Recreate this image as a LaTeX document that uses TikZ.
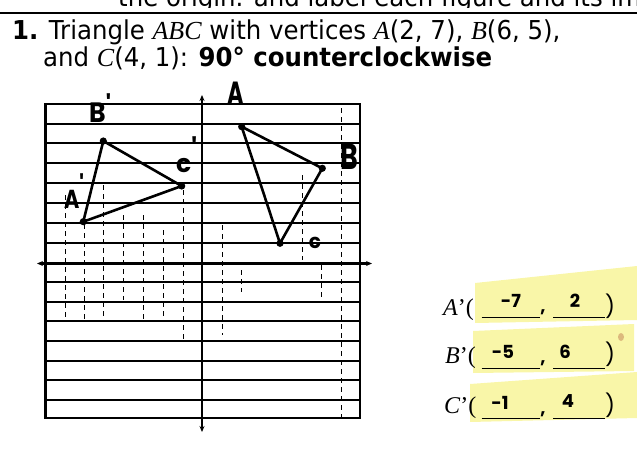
\documentclass[tikz,border=0pt]{standalone}
\usepackage{fontspec}
\setmainfont[FakeStretch=0.94]{DejaVu Sans}
\newfontfamily\tnr{Liberation Serif}
\newfontfamily\hand{Poppins}
\usetikzlibrary{arrows.meta}
\definecolor{hl}{RGB}{249,246,168}
\definecolor{stain}{RGB}{220,185,125}
\tikzset{
  hline/.style={line width=1.7pt},
  frame/.style={line width=2.3pt},
  axis/.style={line width=2.5pt},
  vdash/.style={line width=0.9pt, dash pattern=on 5pt off 4pt},
  tri/.style={line width=2.6pt, line join=round},
  uline/.style={line width=1.6pt},
  lbl/.style={font=\hand\bfseries\fontsize{30}{32}\selectfont, inner sep=0pt},
  num/.style={font=\hand\bfseries\fontsize{18}{20}\selectfont, inner sep=0pt},
  ans/.style={font=\tnr\fontsize{24}{26}\selectfont, inner sep=0pt, anchor=base west},
  main/.style={font=\fontsize{26}{30}\selectfont, inner sep=0pt, anchor=base west}
}
\newcommand{\hp}[1]{\raisebox{#1}{\fontsize{26}{26}\selectfont\bfseries '}}
\begin{document}
\begin{tikzpicture}[x=1pt,y=-1pt]
\useasboundingbox (0,0) rectangle (637,452);
% cut-off line of text at the very top
\begin{scope}
\clip (0,0) rectangle (637,8);
\node[main] (toptext) at (118,6.5) {the origin. and label each figure and its image.};
\end{scope}
\draw[line width=1.8pt] (0,13) -- (637,13);
% heading
\node[main] (l1) at (12,39.5) {\textbf{1.} Triangle {\tnr\itshape ABC} with vertices {\tnr\itshape A}(2, 7), {\tnr\itshape B}(6, 5),};
\node[main] (l2) at (43,66.7) {and {\tnr\itshape C}(4, 1): \textbf{90° counterclockwise}};
% highlights
\fill[hl] (475,283) -- (637,266) -- (637,320) -- (475,323) -- cycle;
\fill[hl] (473,331) -- (634,324) -- (634,371) -- (473,373) -- cycle;
\fill[hl] (470,384) -- (637,372) -- (637,418) -- (470,422) -- cycle;
\fill[stain] (621,337) ellipse (3 and 4);
% grid
\foreach \y in {124,143.3,162.7,182.7,202.7,222.7,242.7,282.3,301.7,321,340.7,360.7,380,400}
  \draw[hline] (45.5,\y) -- (360,\y);
\draw[vdash] (65,195) -- (65,320);
\draw[vdash] (84,215) -- (84,320);
\draw[vdash] (103,185) -- (103,320);
\draw[vdash] (123,215) -- (123,300);
\draw[vdash] (143,215) -- (143,320);
\draw[vdash] (163,230) -- (163,320);
\draw[vdash] (183,190) -- (183,340);
\draw[vdash] (222,225) -- (222,335);
\draw[vdash] (241,270) -- (241,292);
\draw[vdash] (302,175) -- (302,260);
\draw[vdash] (321,265) -- (321,300);
\draw[vdash] (341,108) -- (341,418);
\draw[frame] (45.5,104) rectangle (360,418.3);
\draw[axis, {Stealth[length=6pt,width=5pt]}-{Stealth[length=6pt,width=5pt]}] (37,263.5) -- (372,263.5);
\draw[axis, {Stealth[length=6pt,width=5pt]}-{Stealth[length=6pt,width=5pt]}] (202,95) -- (202,432);
% triangles
\coordinate (A) at (241.7,126.7);
\coordinate (B) at (322.3,168.3);
\coordinate (C) at (280,243.3);
\coordinate (A1) at (83.3,221.7);
\coordinate (B1) at (103.3,141);
\coordinate (C1) at (181.7,186);
\draw[tri] (A) -- (B) -- (C) -- cycle;
\draw[tri] (A1) -- (B1) -- (C1) -- cycle;
\foreach \p in {A,B,C,A1,B1,C1} \fill (\p) circle (3.6);
% handwritten labels
\node[lbl, font=\hand\bfseries\fontsize{32}{34}\selectfont, xscale=0.7, anchor=south] (tA) at (236,105) {A};
\node[lbl, font=\hand\bfseries\fontsize{36}{38}\selectfont, xscale=0.75, anchor=south] (tB) at (349,170) {B};
\node[lbl, font=\hand\bfseries\fontsize{20}{22}\selectfont, anchor=south] (tC) at (315,249) {c};
\node[lbl, font=\hand\bfseries\fontsize{26}{28}\selectfont, xscale=0.8, anchor=south west] (tA1) at (64,209) {A\hp{14pt}};
\node[lbl, font=\hand\bfseries\fontsize{28}{30}\selectfont, xscale=0.9, anchor=south west] (tB1) at (89,123) {B\hp{8pt}};
\node[lbl, font=\hand\bfseries\fontsize{25}{27}\selectfont, anchor=south west] (tC1) at (176,173) {c\hp{15pt}};
% answers
\node[ans] (ra) at (443,315) {\textit{A}’(};
\node[ans] (rb) at (445,363.3) {\textit{B}’(};
\node[ans] (rc) at (444,413.3) {\textit{C}’(};
\foreach \y in {317.3,368.3,418.3} {
  \draw[uline] (481.7,\y) -- (540,\y);
  \draw[uline] (553,\y) -- (605,\y);
}
\node[num] (a1) at (511,301) {-7};
\node[num] (a2) at (575,301) {2};
\node[num] (b1) at (503,352) {-5};
\node[num] (b2) at (565,352) {6};
\node[num] (c1) at (500,403) {-1};
\node[num] (c2) at (568,401) {4};
\foreach \y/\n in {312/ca,363/cb,414/cc} \node[num] (\n) at (543,\y) {,};
\foreach \y/\n in {306/pa,354/pb,405/pc} \node[num, font=\hand\fontsize{22}{24}\selectfont] (\n) at (610,\y) {)};
\end{tikzpicture}
\end{document}
